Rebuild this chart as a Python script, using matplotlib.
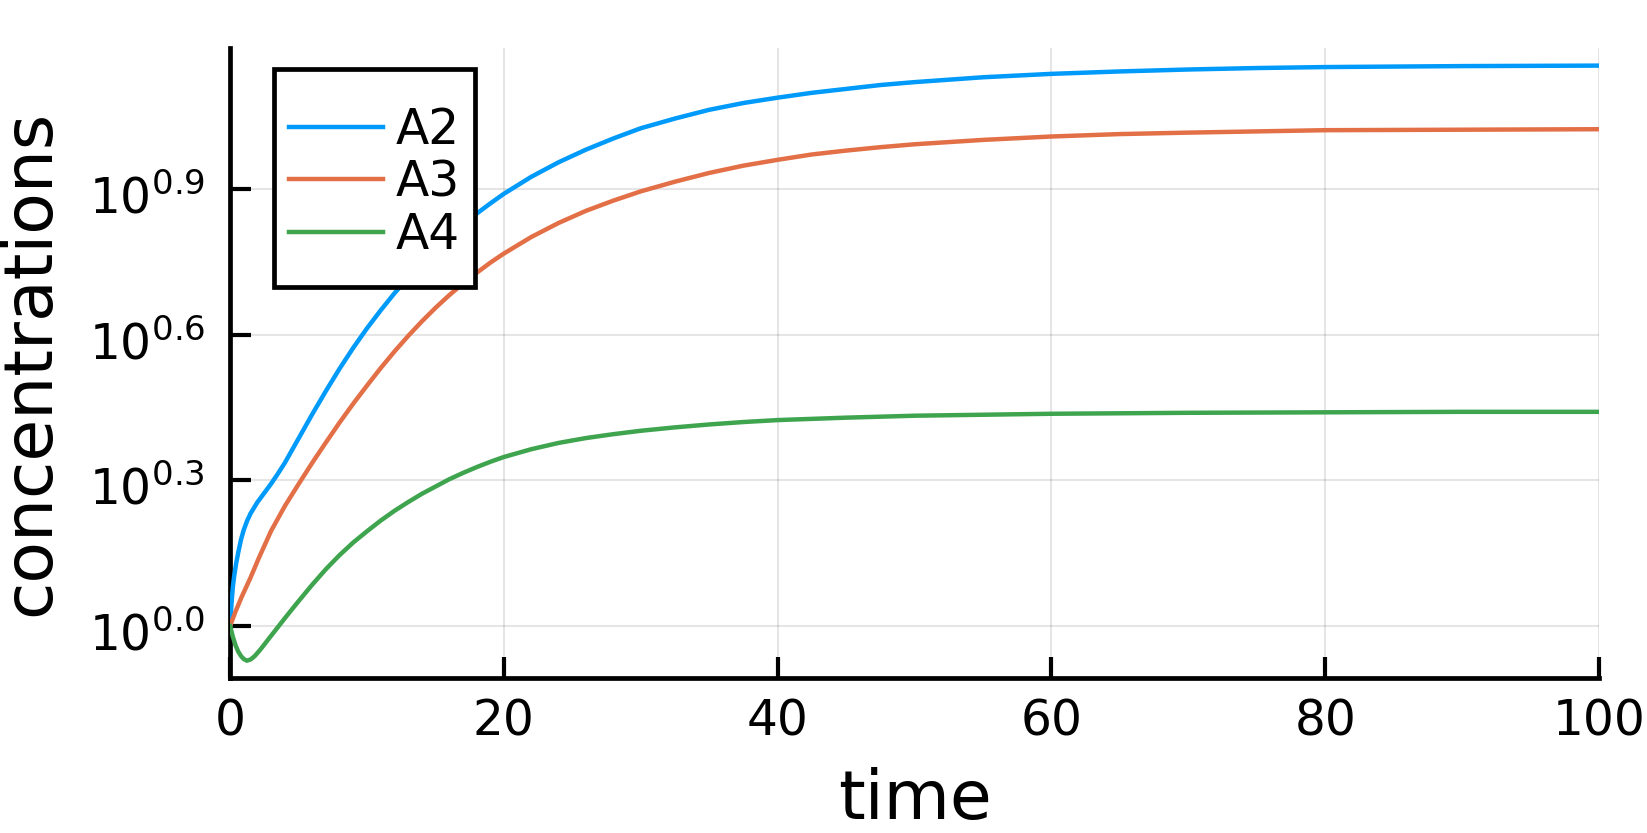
import matplotlib
matplotlib.use("Agg")
import matplotlib.pyplot as plt
from matplotlib.patches import Rectangle
from matplotlib.ticker import NullLocator
from matplotlib.transforms import ScaledTranslation

plt.rcParams["font.family"] = "DejaVu Sans"
plt.rcParams["mathtext.fontset"] = "dejavusans"
plt.rcParams["mathtext.default"] = "regular"

# values: time and log10(concentration)
t_a2 = [0, 0.1, 0.2, 0.3, 0.45, 0.6, 0.8, 1.0, 1.25, 1.5, 2.0, 2.5, 3.0, 3.5, 4.0, 5.0,
        6.0, 7.0, 8.0, 9.0, 10, 11, 12, 13, 14, 15, 16, 17, 18, 19, 20, 22, 24, 26, 28,
        30, 32.5, 35, 37.5, 40, 42.5, 45, 47.5, 50, 55, 60, 65, 70, 75, 80, 85, 90, 100]
a2_log10 = [0, 0.045, 0.08, 0.103, 0.13, 0.152, 0.178, 0.198, 0.217, 0.232, 0.255, 0.274,
            0.293, 0.314, 0.336, 0.386, 0.436, 0.484, 0.53, 0.573, 0.613, 0.65, 0.685,
            0.717, 0.747, 0.775, 0.801, 0.826, 0.849, 0.87, 0.89, 0.925, 0.955, 0.981,
            1.004, 1.025, 1.045, 1.063, 1.077, 1.088, 1.098, 1.106, 1.114, 1.120, 1.130,
            1.137, 1.142, 1.146, 1.149, 1.151, 1.152, 1.153, 1.154]

t_a3 = [0, 0.4, 0.85, 1.5, 2.1, 3.0, 4.0, 5.0, 6.0, 7.0, 8.0, 9.0, 10, 11, 12, 13, 14, 15,
        16, 17, 18, 19, 20, 22, 24, 26, 28, 30, 32.5, 35, 37.5, 40, 42.5, 45, 47.5, 50,
        55, 60, 65, 70, 80, 90, 100]
a3_log10 = [0, 0.03, 0.06, 0.10, 0.14, 0.196, 0.247, 0.292, 0.336, 0.378, 0.419, 0.458,
            0.495, 0.531, 0.565, 0.597, 0.627, 0.655, 0.681, 0.705, 0.727, 0.748, 0.767,
            0.801, 0.830, 0.855, 0.876, 0.895, 0.915, 0.933, 0.948, 0.960, 0.971, 0.979,
            0.986, 0.992, 1.001, 1.008, 1.013, 1.016, 1.021, 1.022, 1.023]

t_a4 = [0, 0.2, 0.4, 0.6, 0.8, 1.0, 1.22, 1.5, 1.8, 2.2, 2.56, 3.0, 3.53, 4.0, 5.0, 6.0,
        7.0, 8.0, 9.0, 10, 11, 12, 13, 14, 15, 16, 17, 18, 19, 20, 22, 24, 26, 28, 30,
        32.5, 35, 37.5, 40, 45, 50, 55, 60, 70, 80, 90, 100]
a4_log10 = [0, -0.022, -0.04, -0.053, -0.062, -0.068, -0.0715, -0.069, -0.062, -0.049,
            -0.036, -0.02, -0.001, 0.016, 0.051, 0.085, 0.117, 0.146, 0.172, 0.195, 0.217,
            0.237, 0.255, 0.272, 0.287, 0.302, 0.315, 0.327, 0.338, 0.348, 0.364, 0.377,
            0.387, 0.395, 0.402, 0.409, 0.415, 0.420, 0.424, 0.429, 0.433, 0.435, 0.437,
            0.439, 0.440, 0.441, 0.441]

series = [("A2", t_a2, a2_log10, "#009AFA"),
          ("A3", t_a3, a3_log10, "#E36F47"),
          ("A4", t_a4, a4_log10, "#3EA44E")]

ytick_exp = [0.0, 0.3, 0.6, 0.9]
xticks = [0, 20, 40, 60, 80, 100]

fig = plt.figure(figsize=(16.47, 8.33), dpi=100)
ax = fig.add_axes([0.1397, 0.1861, 0.8312, 0.7563])

for name, t, lg, col in series:
    ax.plot(t, [10 ** v for v in lg], color=col, lw=3.2, label=name, zorder=3)

ax.set_yscale("log")
ax.set_xlim(0, 100)
ax.set_ylim(10 ** -0.1071, 10 ** 1.1903)
ax.set_xticks(xticks)
ax.set_yticks([10 ** e for e in ytick_exp])
ax.set_yticklabels([f"$10^{{{e:.1f}}}$" for e in ytick_exp])
ax.yaxis.set_minor_locator(NullLocator())

for s in ["top", "right"]:
    ax.spines[s].set_visible(False)
for s in ["left", "bottom"]:
    ax.spines[s].set_linewidth(3.4)

ax.tick_params(direction="in", length=15, width=3, labelsize=35)
ax.tick_params(axis="y", pad=18)
ax.tick_params(axis="x", pad=14)
ax.grid(True, color="black", alpha=0.1, lw=1.5)
ax.set_axisbelow(True)

# nudge y tick labels down a little, like the reference
shift = ScaledTranslation(0, -5 / 100, fig.dpi_scale_trans)
for tick in ax.yaxis.get_major_ticks():
    tick.label1.set_transform(tick.label1.get_transform() + shift)

ax.set_xlabel("time", fontsize=49)
ax.set_ylabel("concentrations", fontsize=49)
ax.xaxis.set_label_coords(0.5, -0.142)
ax.yaxis.set_label_coords(-0.122, 0.5)

# legend with Plots-style box (extra padding at bottom)
ax.add_patch(Rectangle((0.0321, 0.6206), 0.1468, 0.3461, transform=ax.transAxes,
                       facecolor="white", edgecolor="black", lw=3.4, zorder=5))
leg = ax.legend(loc="upper left", bbox_to_anchor=(0.0431, 0.908), frameon=False,
                fontsize=35, handlelength=1.93, handletextpad=0.27, labelspacing=0.09,
                borderpad=0, borderaxespad=0)
leg.set_zorder(6)
for line in leg.get_lines():
    line.set_linewidth(3.2)

fig.savefig("out.png", dpi=100)
